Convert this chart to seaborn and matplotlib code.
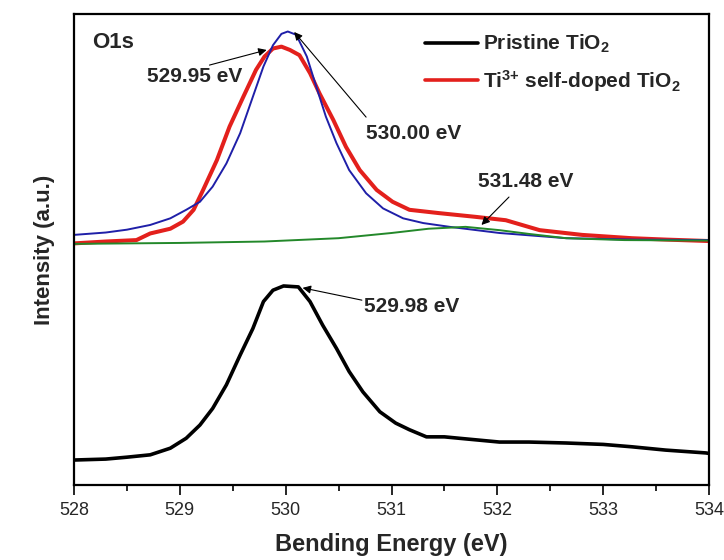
import numpy as np
import pandas as pd
import matplotlib
matplotlib.use("Agg")
import matplotlib.pyplot as plt
import seaborn as sns
from matplotlib.ticker import MultipleLocator, NullLocator

# binding energy (eV) / intensity (a.u., arbitrary offset scale)
pristine_x = [528.0, 528.3, 528.5, 528.72, 528.91, 529.06, 529.19, 529.31, 529.44, 529.57,
              529.69, 529.79, 529.88, 529.98, 530.12, 530.23, 530.35, 530.48, 530.6, 530.73,
              530.89, 531.04, 531.17, 531.33, 531.5, 531.64, 532.02, 532.3, 532.65, 533.0,
              533.27, 533.59, 533.97, 534.0]
pristine_y = [5.7, 5.9, 6.3, 6.8, 8.2, 10.3, 13.1, 16.6, 21.6, 27.9,
              33.5, 39.2, 41.6, 42.5, 42.3, 39.2, 34.2, 29.3, 24.4, 20.1,
              15.9, 13.5, 12.1, 10.6, 10.6, 10.3, 9.5, 9.5, 9.3, 9.0,
              8.5, 7.8, 7.2, 7.1]

doped_x = [528.0, 528.3, 528.59, 528.72, 528.91, 529.03, 529.13, 529.22, 529.35, 529.47,
           529.6, 529.72, 529.8, 529.88, 529.96, 530.04, 530.13, 530.23, 530.32, 530.45,
           530.57, 530.7, 530.86, 531.01, 531.17, 531.45, 531.8, 532.08, 532.4, 532.8,
           533.27, 533.6, 534.0]
doped_y = [51.5, 51.9, 52.2, 53.6, 54.6, 56.1, 58.6, 62.8, 69.1, 76.2,
           82.5, 88.2, 91.0, 92.7, 93.1, 92.4, 91.3, 87.5, 83.2, 77.6,
           71.9, 67.0, 62.8, 60.3, 58.6, 57.9, 57.1, 56.4, 54.3, 53.3,
           52.6, 52.3, 52.0]

fit1_x = [528.0, 528.3, 528.5, 528.72, 528.91, 529.06, 529.19, 529.31, 529.44, 529.57,
          529.69, 529.79, 529.88, 529.96, 530.02, 530.1, 530.2, 530.29, 530.38, 530.48,
          530.6, 530.76, 530.92, 531.11, 531.3, 531.55, 532.02, 532.65, 533.3, 534.0]
fit1_y = [53.3, 53.8, 54.4, 55.4, 56.8, 58.6, 60.3, 63.5, 68.4, 74.8,
          82.5, 88.9, 93.4, 95.8, 96.3, 95.6, 91.0, 84.6, 78.3, 72.7,
          67.0, 62.1, 58.9, 56.8, 55.8, 55.0, 53.7, 52.6, 52.3, 52.2]

fit2_x = [528.0, 529.0, 529.8, 530.5, 531.0, 531.35, 531.7, 532.02, 532.3, 532.65, 533.2, 534.0]
fit2_y = [51.4, 51.6, 51.9, 52.6, 53.7, 54.6, 55.0, 54.3, 53.5, 52.6, 52.2, 52.1]

# peak labels: text, text position, arrow tail, arrow head
peak_labels = ["529.95 eV", "530.00 eV", "531.48 eV", "529.98 eV"]
label_pos = [(529.14, 86.7), (531.21, 74.8), (532.27, 64.5), (531.19, 38.1)]
arrow_tail = [(529.28, 89.2), (530.76, 78.2), (532.11, 61.3), (530.72, 39.5)]
arrow_head = [(529.82, 92.4), (530.08, 96.2), (531.85, 55.4), (530.16, 42.1)]

sns.set_style("ticks")
plt.rcParams['font.family'] = ['Liberation Sans', 'DejaVu Sans']
plt.rcParams['mathtext.fontset'] = 'custom'
plt.rcParams['mathtext.rm'] = 'Liberation Sans'
plt.rcParams['mathtext.bf'] = 'Liberation Sans:bold'
plt.rcParams['mathtext.it'] = 'Liberation Sans:italic'

fig = plt.figure(figsize=(7.24, 5.6), dpi=100)
ax = fig.add_axes([74 / 724, 75 / 560, 635 / 724, 471 / 560])

df_p = pd.DataFrame({"x": pristine_x, "y": pristine_y})
df_d = pd.DataFrame({"x": doped_x, "y": doped_y})
df_f1 = pd.DataFrame({"x": fit1_x, "y": fit1_y})
df_f2 = pd.DataFrame({"x": fit2_x, "y": fit2_y})

sns.lineplot(data=df_p, x="x", y="y", ax=ax, color="black", lw=2.6,
             label=r"Pristine TiO$_\mathbf{2}$", sort=False)
sns.lineplot(data=df_d, x="x", y="y", ax=ax, color="#e3201c", lw=2.9,
             label=r"Ti$^{\mathbf{3{+}}}$ self-doped TiO$_\mathbf{2}$", sort=False)
sns.lineplot(data=df_f1, x="x", y="y", ax=ax, color="#1f1fa8", lw=1.4, sort=False)
sns.lineplot(data=df_f2, x="x", y="y", ax=ax, color="#23882a", lw=1.4, sort=False)

ax.set_xlim(528, 534)
ax.set_ylim(0.42, 100)
ax.xaxis.set_major_locator(MultipleLocator(1))
ax.xaxis.set_minor_locator(MultipleLocator(0.5))
ax.yaxis.set_major_locator(NullLocator())
ax.tick_params(axis='x', which='major', direction='out', length=7, width=1.4,
               labelsize=13, pad=5, top=False)
ax.tick_params(axis='x', which='minor', direction='out', length=4, width=1.4, top=False)
ax.tick_params(axis='y', left=False, labelleft=False)
for s in ax.spines.values():
    s.set_linewidth(1.6)
    s.set_color("black")

ax.set_xlabel("Bending Energy (eV)", fontsize=17, fontweight='bold', labelpad=10)
ax.set_ylabel("Intensity (a.u.)", fontsize=16, fontweight='bold', labelpad=14)

ax.text(528.17, 93.9, "O1s", fontsize=16, fontweight='bold', va='center', ha='left')

for txt, pos, tail, head in zip(peak_labels, label_pos, arrow_tail, arrow_head):
    ax.text(pos[0], pos[1], txt, fontsize=15, fontweight='bold', ha='center', va='center')
    ax.annotate("", xy=head, xytext=tail,
                arrowprops=dict(arrowstyle="-|>", color="black", lw=0.8,
                                mutation_scale=12, shrinkA=0, shrinkB=0))

leg = ax.legend(loc='upper left', bbox_to_anchor=((425 - 74) / 635, (485 - 33) / 471),
                frameon=False, fontsize=15, handlelength=2.55, handletextpad=0.25,
                labelspacing=0.6, borderpad=0, borderaxespad=0)
for t in leg.get_texts():
    t.set_fontweight('bold')
for l in leg.get_lines():
    l.set_linewidth(2.6)

fig.savefig("out.png", dpi=100)
